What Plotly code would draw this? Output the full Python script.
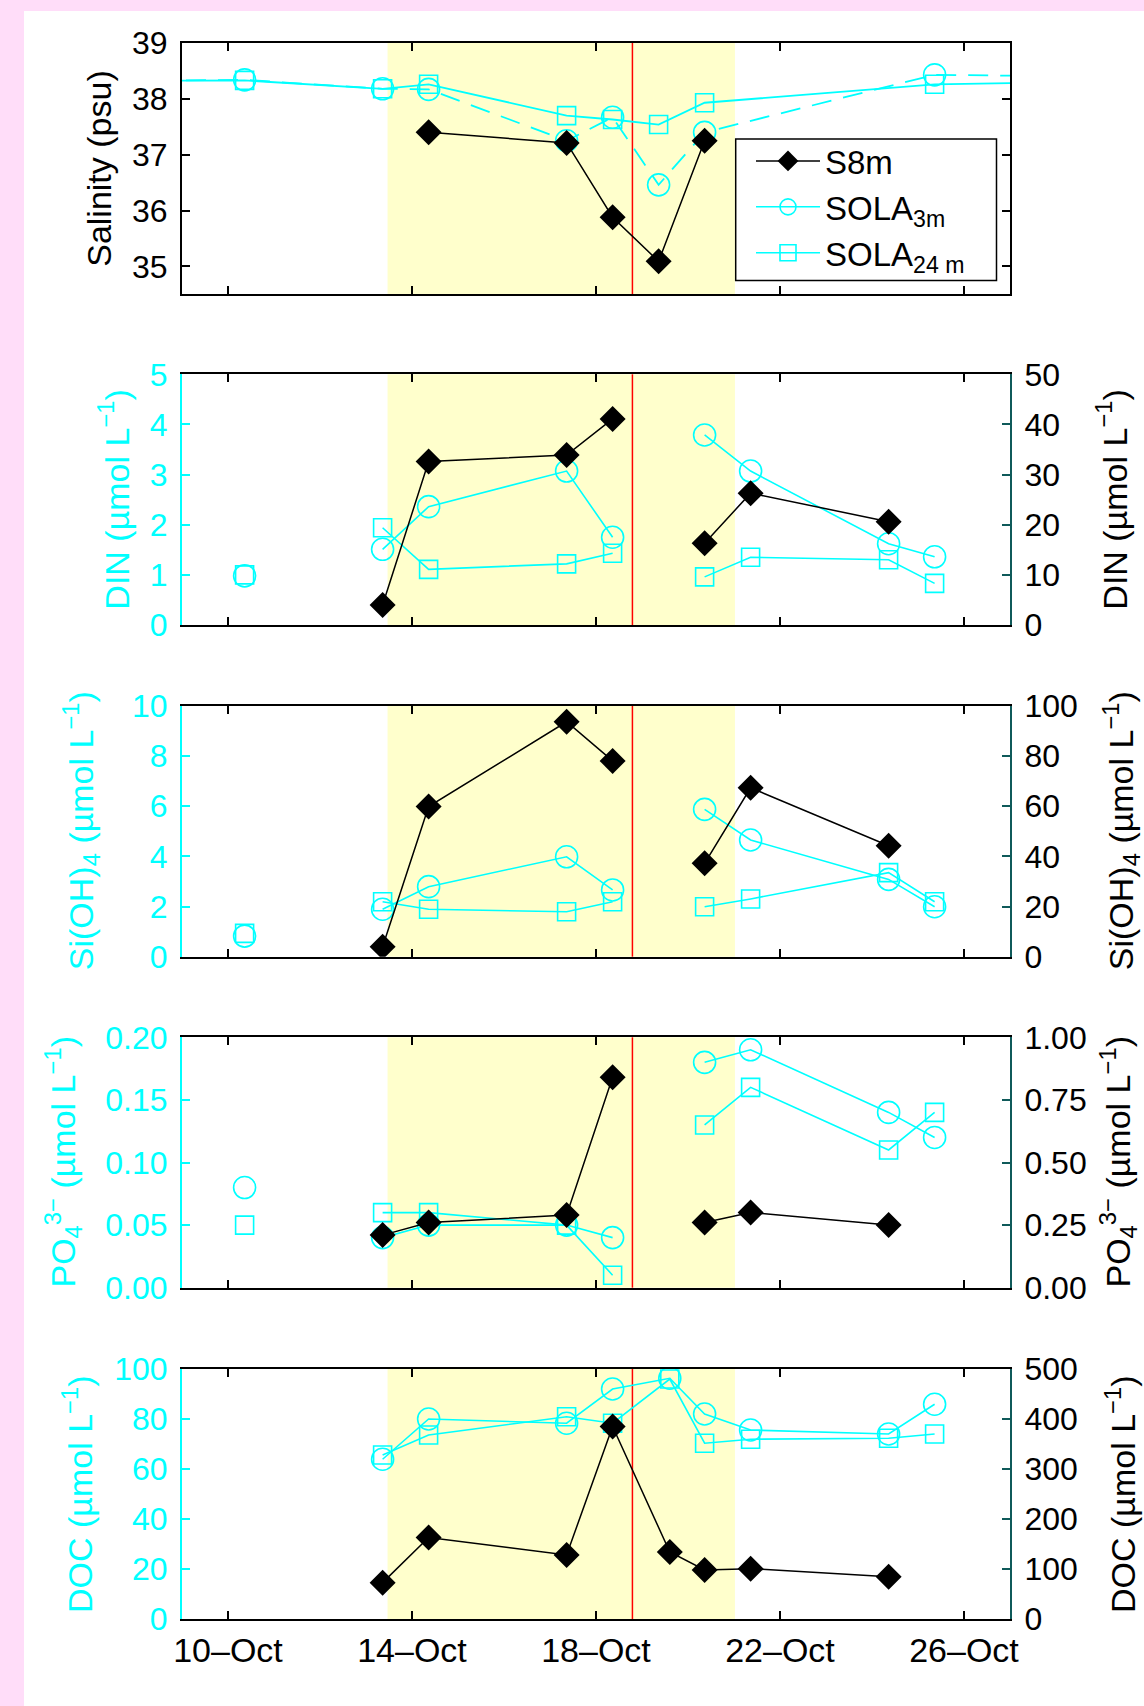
import plotly.graph_objects as go

# ---------------- data ----------------
# Salinity panel
sal_sola_dates = ["2010-10-07 00:00", "2010-10-10 08:40", "2010-10-13 08:40", "2010-10-14 08:40",
                  "2010-10-17 08:40", "2010-10-18 08:40", "2010-10-19 08:40", "2010-10-20 08:40",
                  "2010-10-25 08:40", "2010-10-28 12:00"]
sal_sola_3m = [38.32, 38.34, 38.18, 38.17, 37.25, 37.67, 36.46, 37.40, 38.43, 38.40]
sal_sola_24m = [38.32, 38.33, 38.18, 38.26, 37.70, 37.63, 37.54, 37.93, 38.26, 38.30]
sal_s8_dates = ["2010-10-14 08:40", "2010-10-17 08:40", "2010-10-18 08:40",
                "2010-10-19 08:40", "2010-10-20 08:40"]
sal_s8 = [37.40, 37.21, 35.88, 35.09, 37.25]

# Nutrient panels (None = no sample)
nut_sola_dates = ["2010-10-10 08:40", "2010-10-12 00:00", "2010-10-13 08:40", "2010-10-14 08:40",
                  "2010-10-17 08:40", "2010-10-18 08:40", "2010-10-19 08:40", "2010-10-20 08:40",
                  "2010-10-21 08:40", "2010-10-24 08:40", "2010-10-25 08:40"]
nut_s8_dates = ["2010-10-13 08:40", "2010-10-14 08:40", "2010-10-17 08:40", "2010-10-18 08:40",
                "2010-10-19 08:40", "2010-10-20 08:40", "2010-10-21 08:40", "2010-10-24 08:40"]

din_sola_3m = [0.98, None, 1.51, 2.36, 3.07, 1.75, None, 3.79, 3.07, 1.62, 1.36]
din_sola_24m = [1.00, None, 1.94, 1.11, 1.22, 1.43, None, 0.96, 1.35, 1.30, 0.83]
din_s8 = [4.0, 32.6, 33.9, 41.1, None, 16.3, 26.3, 20.6]

si_sola_3m = [0.82, None, 1.89, 2.79, 3.98, 2.66, None, 5.87, 4.65, 3.08, 1.99]
si_sola_24m = [0.93, None, 2.19, 1.89, 1.79, 2.19, None, 1.99, 2.30, 3.35, 2.19]
si_s8 = [4.0, 59.8, 93.6, 78.0, None, 37.2, 67.3, 44.2]

po4_sola_3m = [0.08, None, 0.04, 0.05, 0.05, 0.04, None, 0.18, 0.19, 0.14, 0.12]
po4_sola_24m = [0.05, None, 0.06, 0.06, 0.05, 0.01, None, 0.13, 0.16, 0.11, 0.14]
po4_s8 = [0.21, 0.26, 0.29, 0.84, None, 0.26, 0.30, 0.25]

# DOC panel
doc_sola_dates = ["2010-10-13 08:40", "2010-10-14 08:40", "2010-10-17 08:40", "2010-10-18 08:40",
                  "2010-10-19 14:30", "2010-10-20 08:40", "2010-10-21 08:40", "2010-10-24 08:40",
                  "2010-10-25 08:40"]
doc_s8_dates = ["2010-10-13 08:40", "2010-10-14 08:40", "2010-10-17 08:40", "2010-10-18 08:40",
                "2010-10-19 14:30", "2010-10-20 08:40", "2010-10-21 08:40", "2010-10-24 08:40"]
doc_sola_3m = [63.9, 80.0, 78.3, 92.0, 96.3, 82.0, 75.6, 74.0, 85.9]
doc_sola_24m = [65.6, 73.6, 80.9, 78.3, 96.0, 70.3, 71.9, 72.3, 74.0]
doc_s8 = [72.7, 163.0, 128.0, 385.0, 134.0, 98.0, 100.7, 84.7]

# Shaded period and event marker
period_start = "2010-10-13 11:15"
period_end = "2010-10-21 00:30"
event_date = "2010-10-18 19:00"

legend_names = ["S8m", "SOLA<sub>3m</sub>", "SOLA<sub>24 m</sub>"]

# ---------------- styles ----------------
FONT = "Liberation Sans, Arial, Helvetica, sans-serif"
CYAN = "#00FFFF"
BLACK = "#000000"
RSPINE = "#0F5A5A"
PINK = "#FFDDF9"
YELLOW = "#FFFFCC"
YTICK_SIZE = 32
XTICK_SIZE = 34
TITLE_SIZE = 34

W, H = 1144, 1706
ML, MR, MT, MB = 182, 134, 43, 87
PW = W - ML - MR
PH = H - MT - MB
BOTTOM_PX = H - MB


def py(px):
    return (BOTTOM_PX - px) / PH


def pxx(px):
    return (px - ML) / PW


panels_px = [(43.3, 294.3), (374.3, 625.0), (705.7, 956.7), (1037.3, 1287.7), (1369.0, 1619.0)]
domains = [[py(b), py(t)] for (t, b) in panels_px]
domains[0][1] = 1.0
domains[-1][0] = 0.0

fig = go.Figure()

circle = dict(symbol="circle-open", size=22, color=CYAN, line=dict(width=1.6, color=CYAN))
square = dict(symbol="square-open", size=18, color=CYAN, line=dict(width=1.6, color=CYAN))
diamond = dict(symbol="diamond", size=20, color=BLACK, line=dict(width=0))

# ---- Panel 1: salinity ----
fig.add_trace(go.Scatter(x=sal_sola_dates, y=sal_sola_24m, mode="lines+markers", xaxis="x", yaxis="y",
                         line=dict(color=CYAN, width=1.8), marker=square, showlegend=False))
fig.add_trace(go.Scatter(x=sal_sola_dates, y=sal_sola_3m, mode="lines+markers", xaxis="x", yaxis="y",
                         line=dict(color=CYAN, width=1.8, dash="20px,12px"), marker=circle,
                         showlegend=False))
fig.add_trace(go.Scatter(x=sal_s8_dates, y=sal_s8, mode="lines+markers", xaxis="x", yaxis="y",
                         line=dict(color=BLACK, width=1.5), marker=diamond, showlegend=False))

# legend entries
fig.add_trace(go.Scatter(x=[None], y=[None], mode="lines+markers", xaxis="x", yaxis="y",
                         line=dict(color=BLACK, width=1.5), marker=diamond, name=legend_names[0]))
fig.add_trace(go.Scatter(x=[None], y=[None], mode="lines+markers", xaxis="x", yaxis="y",
                         line=dict(color=CYAN, width=1.5), marker=circle, name=legend_names[1]))
fig.add_trace(go.Scatter(x=[None], y=[None], mode="lines+markers", xaxis="x", yaxis="y",
                         line=dict(color=CYAN, width=1.5), marker=square, name=legend_names[2]))

# ---- Panels 2-4: nutrients ----
nut_sets = [
    (din_sola_3m, din_sola_24m, din_s8, "x2", "y2", "y3"),
    (si_sola_3m, si_sola_24m, si_s8, "x3", "y4", "y5"),
    (po4_sola_3m, po4_sola_24m, po4_s8, "x4", "y6", "y7"),
]
for s3, s24, s8, xa, yl, yr in nut_sets:
    fig.add_trace(go.Scatter(x=nut_sola_dates, y=s3, mode="lines+markers", xaxis=xa, yaxis=yl,
                             line=dict(color=CYAN, width=1.6), marker=circle, showlegend=False,
                             connectgaps=False))
    fig.add_trace(go.Scatter(x=nut_sola_dates, y=s24, mode="lines+markers", xaxis=xa, yaxis=yl,
                             line=dict(color=CYAN, width=1.6), marker=square, showlegend=False,
                             connectgaps=False))
    fig.add_trace(go.Scatter(x=nut_s8_dates, y=s8, mode="lines+markers", xaxis=xa, yaxis=yr,
                             line=dict(color=BLACK, width=1.5), marker=diamond, showlegend=False,
                             connectgaps=False))

# ---- Panel 5: DOC ----
fig.add_trace(go.Scatter(x=doc_sola_dates, y=doc_sola_3m, mode="lines+markers", xaxis="x5", yaxis="y8",
                         line=dict(color=CYAN, width=1.6), marker=circle, showlegend=False))
fig.add_trace(go.Scatter(x=doc_sola_dates, y=doc_sola_24m, mode="lines+markers", xaxis="x5", yaxis="y8",
                         line=dict(color=CYAN, width=1.6), marker=square, showlegend=False))
fig.add_trace(go.Scatter(x=doc_s8_dates, y=doc_s8, mode="lines+markers", xaxis="x5", yaxis="y9",
                         line=dict(color=BLACK, width=1.5), marker=diamond, showlegend=False))

# ---------------- axes ----------------
xbase = dict(type="date", range=["2010-10-09", "2010-10-27"], tick0="2010-10-10",
             dtick=4 * 86400000, tickformat="%d\u2013%b", ticks="inside", ticklen=8, tickwidth=1.5,
             tickcolor=BLACK, showline=True, linecolor=BLACK, linewidth=2, mirror="ticks",
             showgrid=False, zeroline=False, showticklabels=False,
             tickfont=dict(size=XTICK_SIZE, family=FONT, color=BLACK))

ybase = dict(showline=True, linewidth=2, ticks="inside", ticklen=8, tickwidth=1.5,
             showgrid=False, zeroline=False, ticklabelstandoff=6)

layout_axes = {}
for i in range(5):
    key = "xaxis" if i == 0 else f"xaxis{i + 1}"
    anchor = ["y", "y2", "y4", "y6", "y8"][i]
    xa = dict(xbase, domain=[0, 1], anchor=anchor)
    if i == 4:
        xa["showticklabels"] = True
    layout_axes[key] = xa

layout_axes["yaxis"] = dict(ybase, domain=domains[0], anchor="x", range=[34.5, 39], tickvals=[35, 36, 37, 38, 39],
                            linecolor=BLACK, tickcolor=BLACK, mirror="ticks",
                            tickfont=dict(size=YTICK_SIZE, family=FONT, color=BLACK))

left_specs = [
    ("yaxis2", 1, "x2", [0, 5], 1, None),
    ("yaxis4", 2, "x3", [0, 10], 2, None),
    ("yaxis6", 3, "x4", [0, 0.2], 0.05, ".2f"),
    ("yaxis8", 4, "x5", [0, 100], 20, None),
]
right_specs = [
    ("yaxis3", "y2", "x2", [0, 50], 10, None),
    ("yaxis5", "y4", "x3", [0, 100], 20, None),
    ("yaxis7", "y6", "x4", [0, 1], 0.25, ".2f"),
    ("yaxis9", "y8", "x5", [0, 500], 100, None),
]
for key, di, anchor, rng, dt, fmt in left_specs:
    a = dict(ybase, domain=domains[di], anchor=anchor, range=rng, tick0=0, dtick=dt,
             linecolor=CYAN, tickcolor=CYAN, mirror=False, side="left",
             tickfont=dict(size=YTICK_SIZE, family=FONT, color=CYAN))
    if fmt:
        a["tickformat"] = fmt
    layout_axes[key] = a
for key, over, anchor, rng, dt, fmt in right_specs:
    a = dict(ybase, overlaying=over, anchor=anchor, range=rng, tick0=0, dtick=dt,
             linecolor=RSPINE, tickcolor=RSPINE, side="right",
             tickfont=dict(size=YTICK_SIZE, family=FONT, color=BLACK))
    if fmt:
        a["tickformat"] = fmt
    layout_axes[key] = a

# ---------------- shapes ----------------
shapes = [dict(type="rect", xref="paper", yref="paper", x0=pxx(24), x1=pxx(W + 20),
               y0=py(H + 20), y1=py(11), fillcolor="white", line=dict(width=0), layer="below")]
for xa, ya in [("x", "y"), ("x2", "y2"), ("x3", "y4"), ("x4", "y6"), ("x5", "y8")]:
    shapes.append(dict(type="rect", xref=xa, yref=f"{ya} domain", x0=period_start, x1=period_end,
                       y0=0, y1=1, fillcolor=YELLOW, line=dict(width=0), layer="below"))
    shapes.append(dict(type="line", xref=xa, yref=f"{ya} domain", x0=event_date, x1=event_date,
                       y0=0, y1=1, line=dict(color="#FF0000", width=1.5), layer="below"))
# legend frame
shapes.append(dict(type="rect", xref="paper", yref="paper", x0=pxx(735.7), x1=pxx(996.5),
                   y0=py(280.5), y1=py(139), fillcolor="white", line=dict(color=BLACK, width=1.5),
                   layer="above"))

# ---------------- axis titles ----------------
centers = [(t + b) / 2 for (t, b) in panels_px]
titles = [
    ("Salinity (psu)", 99, centers[0], BLACK),
    ("DIN (\u00b5mol L<sup>\u22121</sup>)", 114, centers[1], CYAN),
    ("Si(OH)<sub>4</sub> (\u00b5mol L<sup>\u22121</sup>)", 81, centers[2], CYAN),
    ("PO<sub>4</sub><sup>3\u2212</sup> (\u00b5mol L<sup>\u22121</sup>)", 62, centers[3], CYAN),
    ("DOC (\u00b5mol L<sup>\u22121</sup>)", 77, centers[4], CYAN),
    ("DIN (\u00b5mol L<sup>\u22121</sup>)", 1112, centers[1], BLACK),
    ("Si(OH)<sub>4</sub> (\u00b5mol L<sup>\u22121</sup>)", 1121, centers[2], BLACK),
    ("PO<sub>4</sub><sup>3\u2212</sup> (\u00b5mol L<sup>\u22121</sup>)", 1117, centers[3], BLACK),
    ("DOC (\u00b5mol L<sup>\u22121</sup>)", 1120, centers[4], BLACK),
]
annotations = []
for text, xc, yc, col in titles:
    annotations.append(dict(text=text, xref="paper", yref="paper", x=pxx(xc), y=py(yc),
                            xanchor="center", yanchor="middle", textangle=-90, showarrow=False,
                            font=dict(size=TITLE_SIZE, family=FONT, color=col)))

fig.update_layout(
    width=W, height=H,
    margin=dict(l=ML, r=MR, t=MT, b=MB, pad=0),
    paper_bgcolor=PINK, plot_bgcolor="white",
    font=dict(family=FONT, size=YTICK_SIZE, color=BLACK),
    showlegend=True,
    legend=dict(x=pxx(751), y=py(133), xanchor="left", yanchor="top",
                bgcolor="rgba(0,0,0,0)", borderwidth=0,
                font=dict(size=33, family=FONT, color=BLACK), itemwidth=64, tracegroupgap=0),
    shapes=shapes,
    annotations=annotations,
    **layout_axes,
)

fig.write_html(
    "out.html",
    config={"displayModeBar": False},
    post_script="document.body.style.margin='0px';document.body.style.padding='0px';"
                "document.body.style.overflow='hidden';",
)
